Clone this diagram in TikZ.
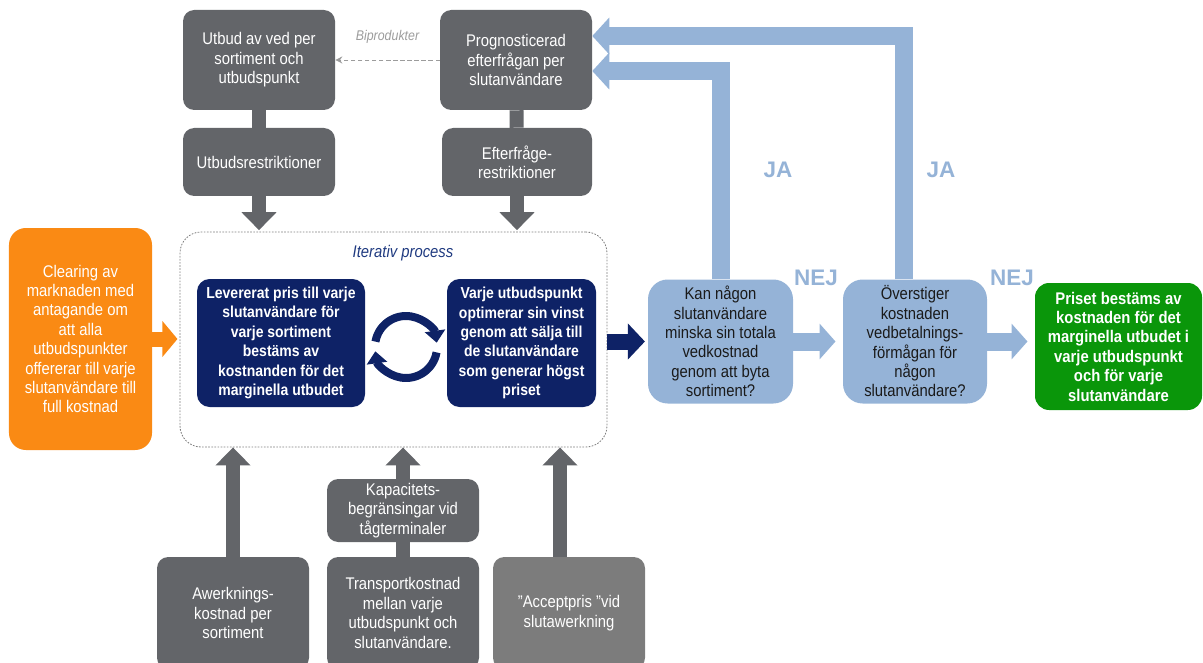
\documentclass[tikz,border=0pt]{standalone}
\usepackage{fontspec}
\setmainfont{Liberation Sans}[FakeStretch=0.88]
\newfontfamily\labfont{Liberation Sans}
\usetikzlibrary{arrows.meta}
\definecolor{cgrey}{HTML}{636569}
\definecolor{clgrey}{HTML}{7C7C7C}
\definecolor{cnavy}{HTML}{0E2266}
\definecolor{citer}{HTML}{1F3A80}
\definecolor{clblue}{HTML}{95B3D7}
\definecolor{corange}{HTML}{FA8A14}
\definecolor{cgreen}{HTML}{0A960A}
\definecolor{cdash}{HTML}{9C9C9C}
\definecolor{cink}{HTML}{1A1A1A}
\tikzset{
  every picture/.style={font=\fontsize{12}{13.8}\selectfont},
  box/.style={fill=#1, text=white, rounded corners=8pt, align=center, inner sep=0pt},
  box/.default=cgrey,
  block/.style={draw=#1, line width=0.35cm, -{Triangle[length=0.45cm, width=0.85cm]}},
  block/.default=cgrey,
  bar/.style={draw=cgrey, line width=0.35cm},
  answer/.style={font=\labfont\fontsize{16}{18}\selectfont\bfseries, text=clblue},
}

\begin{document}
\begin{tikzpicture}[
  g/.style={box, minimum width=3.8cm},
  n/.style={box=cnavy, font=\fontsize{11.3}{13.8}\selectfont\bfseries, minimum height=3.2cm, rounded corners=9pt},
  q/.style={box=clblue, text=cink, minimum height=3.1cm, rounded corners=14pt},
  fwd/.style={draw=clblue, line width=0.45cm, -{Triangle[length=0.4cm, width=0.875cm]}, shorten >=0.18cm},
  back/.style={draw=clblue, line width=0.45cm, -{Triangle[length=0.425cm, width=0.9cm]}},
  cyc/.style={draw=cnavy, line width=0.2cm, -{Triangle[length=0.3cm, width=0.5cm]}}]
  \useasboundingbox (0,0) rectangle (30.075,-16.575);
  \clip (0,0) rectangle (30.075,-16.575);
  \node[g, minimum height=2.5cm] (ubud) at (6.475,-1.5) {Utbud av ved per\\sortiment och\\utbudspunkt};
  \node[g, minimum height=1.7cm] (ures) at (6.475,-4.05) {Utbudsrestriktioner};
  \node[g, minimum height=2.5cm] (prog) at (12.9,-1.5) {Prognosticerad\\efterfrågan per\\slutanvändare};
  \node[g, minimum height=1.7cm, minimum width=3.75cm] (eres) at (12.925,-4.05) {Efterfråge-\\restriktioner};
  \node[draw=gray, line width=0.6pt, dash pattern=on 1.2pt off 1pt, rounded corners=15pt,
    minimum width=10.675cm, minimum height=5.375cm] (iter) at (9.8375,-8.4875) {};
  \node[font=\fontsize{12}{14}\selectfont\itshape, text=citer] (itlab) at (10.075,-6.325) {Iterativ process};
  \node[n, minimum width=4.2cm] (lev) at (7.025,-8.575) {Levererat pris till varje\\slutanvändare för\\varje sortiment\\bestäms av\\kostnanden för det\\marginella utbudet};
  \node[n, minimum width=3.725cm] (varje) at (13.0375,-8.575) {Varje utbudspunkt\\optimerar sin vinst\\genom att sälja till\\de slutanvändare\\som generar högst\\priset};
  \coordinate (cyc) at (10.15,-8.675);
  \node[box=corange, minimum width=3.575cm, minimum height=5.55cm, rounded corners=12pt] (clear) at (2.0125,-8.475) {Clearing av\\marknaden med\\antagande om\\att alla\\utbudspunkter\\offererar till varje\\slutanvändare till\\full kostnad};
  \node[q, minimum width=3.625cm] (kan) at (18.0125,-8.5375) {Kan någon\\slutanvändare\\minska sin totala\\vedkostnad\\genom att byta\\sortiment?};
  \node[q, minimum width=3.6cm] (over) at (22.875,-8.5375) {Överstiger\\kostnaden\\vedbetalnings-\\förmågan för\\någon\\slutanvändare?};
  \node[box=cgreen, font=\fontsize{12}{13.8}\selectfont\bfseries, minimum width=4.175cm, minimum height=3.175cm, rounded corners=10pt] (pris) at (27.9625,-8.6625) {Priset bestäms av\\kostnaden för det\\marginella utbudet i\\varje utbudspunkt\\och för varje\\slutanvändare};
  \node[g, minimum height=1.575cm] (kap) at (10.075,-12.7625) {Kapacitets-\\begränsingar vid\\tågterminaler};
  \node[g, minimum height=2.8cm] (awerk) at (5.825,-15.325) {Awerknings-\\kostnad per\\sortiment};
  \node[g, minimum height=2.8cm] (trans) at (10.075,-15.325) {Transportkostnad\\mellan varje\\utbudspunkt och\\slutanvändare.};
  \node[g, fill=clgrey, minimum height=2.8cm] (accept) at (14.225,-15.325) {”Acceptpris ”vid\\slutawerkning};
  \foreach \a/\b in {ubud/ures, prog/eres, trans/kap} \draw[bar] (\a) -- (\b);
  \foreach \a in {ures, eres} \draw[block, shorten >=1pt] (\a.south) -- (\a.south |- iter.north);
  \foreach \a in {awerk, kap} \draw[block] (\a.north) -- (\a.north |- iter.south);
  \draw[block] ([xshift=-0.225cm]accept.north) -- ([xshift=-0.225cm]accept.north |- iter.south);
  \draw[draw=cdash, line width=0.7pt, dash pattern=on 3pt off 2pt, -{Stealth[length=5pt, width=5pt]}] (prog.west) -- (ubud.east)
    node[midway, above=8pt, font=\fontsize{10}{11}\selectfont\itshape, text=cdash] (bip) {Biprodukter};
  \draw[cyc] ([shift={(170:0.775)}]cyc) arc[start angle=170, end angle=8, radius=0.775];
  \draw[cyc] ([shift={(-10:0.775)}]cyc) arc[start angle=-10, end angle=-172, radius=0.775];
  \draw[block=corange, line width=0.375cm, -{Triangle[length=0.375cm, width=0.875cm]}, shorten >=1.5pt] (clear.east) -- (clear.east -| iter.west);
  \draw[block=cnavy, line width=0.4cm, -{Triangle[length=0.425cm, width=0.875cm]}, shorten >=2pt] (iter.east |- kan.west) -- (kan.west);
  \foreach \a/\b in {kan/over, over/pris} \draw[fwd] (\a.east) -- (\a.east -| \b.west);
  \draw[back] (kan.north) |- ([yshift=-0.275cm]prog.east);
  \draw[back] ([xshift=-0.275cm]over.north) |- ([yshift=0.6cm]prog.east);
  \node[answer] (ja1) at (19.45,-4.25) {JA};
  \node[answer] (ja2) at (23.525,-4.25) {JA};
  \node[answer] (nej1) at (20.4,-6.95) {NEJ};
  \node[answer] (nej2) at (25.3,-6.95) {NEJ};
\end{tikzpicture}
\end{document}
